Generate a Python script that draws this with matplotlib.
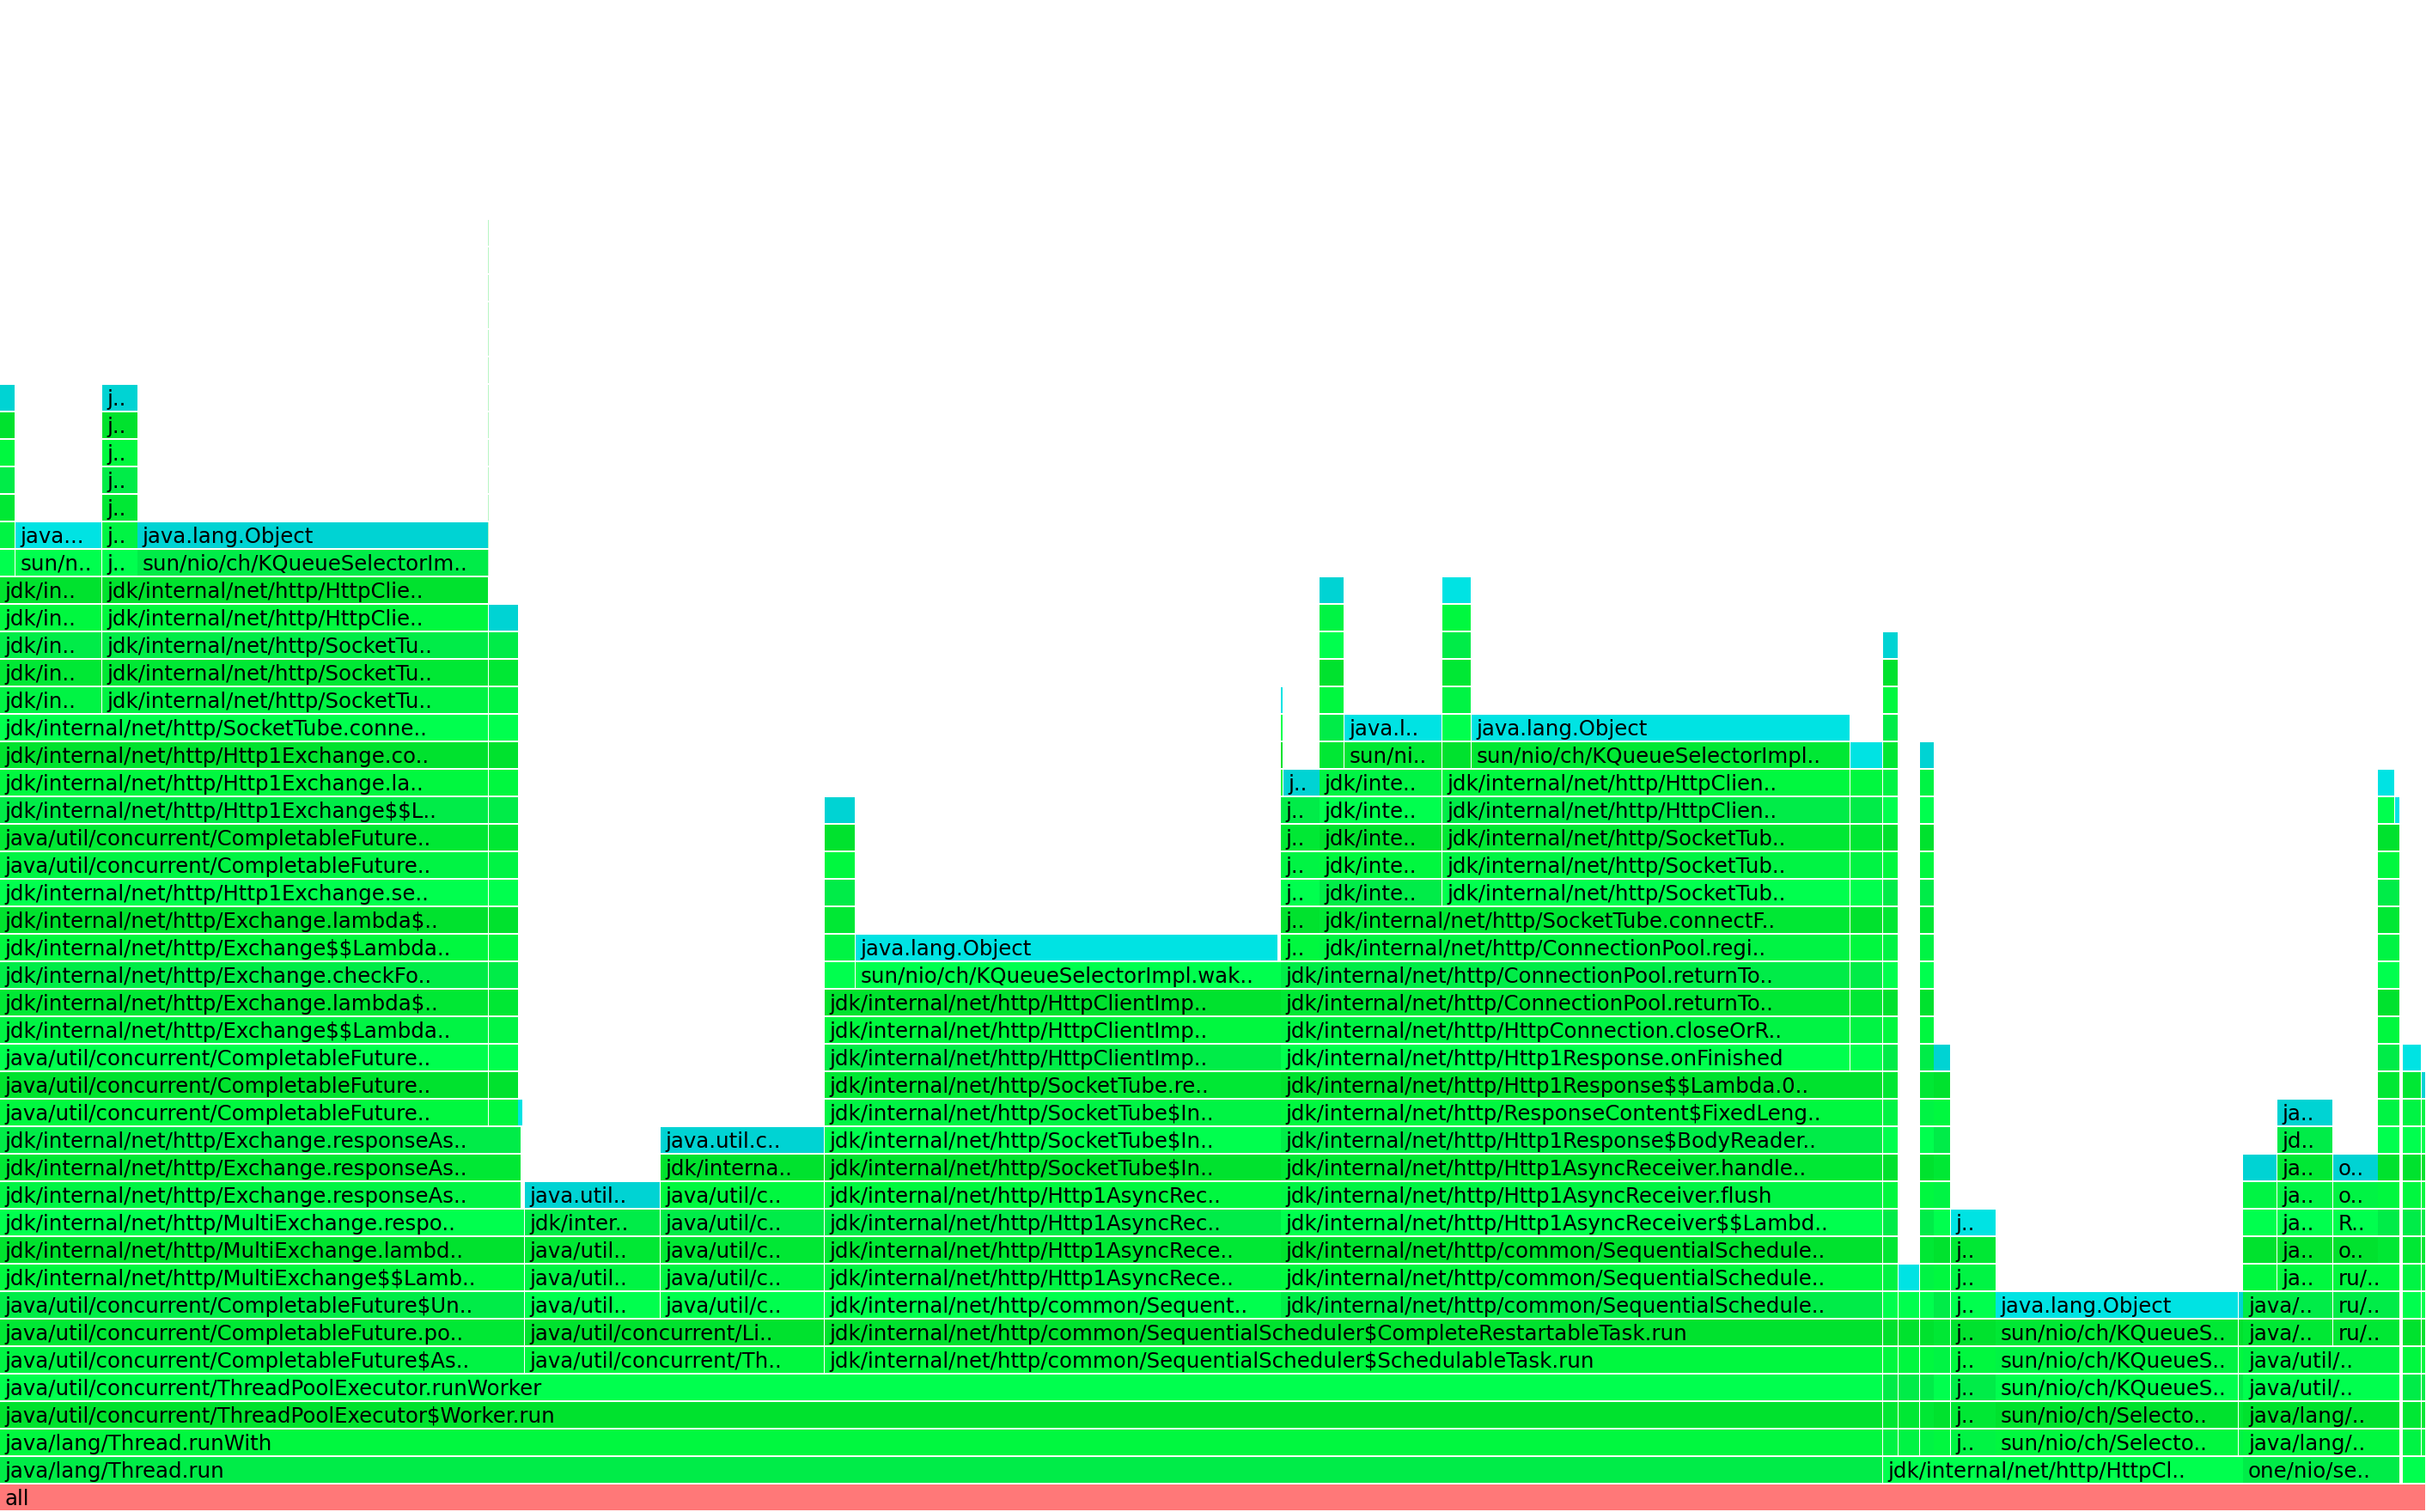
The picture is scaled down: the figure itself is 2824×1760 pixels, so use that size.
import matplotlib
matplotlib.use('Agg')
import matplotlib.pyplot as plt
from matplotlib.patches import Rectangle

##################################################################
## Flame graph data (x in samples, TOTAL samples across)
TOTAL = 1568
N_ROWS = 55

# frame: (depth, first sample, samples, name, type)  type J=java, A=alloc class, R=root
root_frames = [(0, 0, 1568, 'all', 'R')]

thread_frames = [
    (1, 0, 1217, 'java/lang/Thread.run', 'J'),
    (2, 0, 1217, 'java/lang/Thread.runWith', 'J'),
    (3, 0, 1217, 'java/util/concurrent/ThreadPoolExecutor$Worker.run', 'J'),
    (4, 0, 1217, 'java/util/concurrent/ThreadPoolExecutor.runWorker', 'J'),
    (5, 0, 339, 'java/util/concurrent/CompletableFuture$As..', 'J'),
    (5, 339, 194, 'java/util/concurrent/Th..', 'J'),
    (5, 533, 684, 'jdk/internal/net/http/common/SequentialScheduler$SchedulableTask.run', 'J'),
    (6, 0, 339, 'java/util/concurrent/CompletableFuture.po..', 'J'),
    (6, 339, 194, 'java/util/concurrent/Li..', 'J'),
    (6, 533, 684, 'jdk/internal/net/http/common/SequentialScheduler$CompleteRestartableTask.run', 'J'),
]

exchange_frames = [
    (7, 0, 339, 'java/util/concurrent/CompletableFuture$Un..', 'J'),
    (8, 0, 339, 'jdk/internal/net/http/MultiExchange$$Lamb..', 'J'),
    (9, 0, 339, 'jdk/internal/net/http/MultiExchange.lambd..', 'J'),
    (10, 0, 339, 'jdk/internal/net/http/MultiExchange.respo..', 'J'),
    (11, 0, 337, 'jdk/internal/net/http/Exchange.responseAs..', 'J'),
    (12, 0, 337, 'jdk/internal/net/http/Exchange.responseAs..', 'J'),
    (13, 0, 337, 'jdk/internal/net/http/Exchange.responseAs..', 'J'),
    (14, 0, 316, 'java/util/concurrent/CompletableFuture..', 'J'),
    (15, 0, 316, 'java/util/concurrent/CompletableFuture..', 'J'),
    (16, 0, 316, 'java/util/concurrent/CompletableFuture..', 'J'),
    (17, 0, 316, 'jdk/internal/net/http/Exchange$$Lambda..', 'J'),
    (18, 0, 316, 'jdk/internal/net/http/Exchange.lambda$..', 'J'),
    (19, 0, 316, 'jdk/internal/net/http/Exchange.checkFo..', 'J'),
    (20, 0, 316, 'jdk/internal/net/http/Exchange$$Lambda..', 'J'),
    (21, 0, 316, 'jdk/internal/net/http/Exchange.lambda$..', 'J'),
    (22, 0, 316, 'jdk/internal/net/http/Http1Exchange.se..', 'J'),
    (23, 0, 316, 'java/util/concurrent/CompletableFuture..', 'J'),
    (24, 0, 316, 'java/util/concurrent/CompletableFuture..', 'J'),
    (25, 0, 316, 'jdk/internal/net/http/Http1Exchange$$L..', 'J'),
    (26, 0, 316, 'jdk/internal/net/http/Http1Exchange.la..', 'J'),
    (27, 0, 316, 'jdk/internal/net/http/Http1Exchange.co..', 'J'),
    (28, 0, 316, 'jdk/internal/net/http/SocketTube.conne..', 'J'),
    (29, 0, 66, 'jdk/in..', 'J'),
    (29, 66, 250, 'jdk/internal/net/http/SocketTu..', 'J'),
    (30, 0, 66, 'jdk/in..', 'J'),
    (30, 66, 250, 'jdk/internal/net/http/SocketTu..', 'J'),
    (31, 0, 66, 'jdk/in..', 'J'),
    (31, 66, 250, 'jdk/internal/net/http/SocketTu..', 'J'),
    (32, 0, 66, 'jdk/in..', 'J'),
    (32, 66, 250, 'jdk/internal/net/http/HttpClie..', 'J'),
    (33, 0, 66, 'jdk/in..', 'J'),
    (33, 66, 250, 'jdk/internal/net/http/HttpClie..', 'J'),
    (34, 10, 56, 'sun/n..', 'J'),
    (34, 89, 227, 'sun/nio/ch/KQueueSelectorIm..', 'J'),
    (35, 10, 56, 'java...', 'A'),
    (35, 89, 227, 'java.lang.Object', 'A'),
]

executor_frames = [
    (7, 339, 88, 'java/util..', 'J'),
    (7, 427, 106, 'java/util/c..', 'J'),
    (8, 339, 88, 'java/util..', 'J'),
    (8, 427, 106, 'java/util/c..', 'J'),
    (9, 339, 88, 'java/util..', 'J'),
    (9, 427, 106, 'java/util/c..', 'J'),
    (10, 339, 88, 'jdk/inter..', 'J'),
    (10, 427, 106, 'java/util/c..', 'J'),
    (11, 339, 88, 'java.util..', 'A'),
    (11, 427, 106, 'java/util/c..', 'J'),
    (12, 427, 106, 'jdk/interna..', 'J'),
    (13, 427, 106, 'java.util.c..', 'A'),
]

receiver_frames = [
    (7, 533, 295, 'jdk/internal/net/http/common/Sequent..', 'J'),
    (8, 533, 295, 'jdk/internal/net/http/Http1AsyncRece..', 'J'),
    (9, 533, 295, 'jdk/internal/net/http/Http1AsyncRece..', 'J'),
    (10, 533, 295, 'jdk/internal/net/http/Http1AsyncRec..', 'J'),
    (11, 533, 295, 'jdk/internal/net/http/Http1AsyncRec..', 'J'),
    (12, 533, 295, 'jdk/internal/net/http/SocketTube$In..', 'J'),
    (13, 533, 295, 'jdk/internal/net/http/SocketTube$In..', 'J'),
    (14, 533, 295, 'jdk/internal/net/http/SocketTube$In..', 'J'),
    (15, 533, 295, 'jdk/internal/net/http/SocketTube.re..', 'J'),
    (16, 533, 295, 'jdk/internal/net/http/HttpClientImp..', 'J'),
    (17, 533, 295, 'jdk/internal/net/http/HttpClientImp..', 'J'),
    (18, 533, 295, 'jdk/internal/net/http/HttpClientImp..', 'J'),
    (19, 553, 275, 'sun/nio/ch/KQueueSelectorImpl.wak..', 'J'),
    (20, 553, 273, 'java.lang.Object', 'A'),
]

pool_frames = [
    (7, 828, 389, 'jdk/internal/net/http/common/SequentialSchedule..', 'J'),
    (8, 828, 389, 'jdk/internal/net/http/common/SequentialSchedule..', 'J'),
    (9, 828, 389, 'jdk/internal/net/http/common/SequentialSchedule..', 'J'),
    (10, 828, 389, 'jdk/internal/net/http/Http1AsyncReceiver$$Lambd..', 'J'),
    (11, 828, 389, 'jdk/internal/net/http/Http1AsyncReceiver.flush', 'J'),
    (12, 828, 389, 'jdk/internal/net/http/Http1AsyncReceiver.handle..', 'J'),
    (13, 828, 389, 'jdk/internal/net/http/Http1Response$BodyReader..', 'J'),
    (14, 828, 389, 'jdk/internal/net/http/ResponseContent$FixedLeng..', 'J'),
    (15, 828, 389, 'jdk/internal/net/http/Http1Response$$Lambda.0..', 'J'),
    (16, 828, 368, 'jdk/internal/net/http/Http1Response.onFinished', 'J'),
    (17, 828, 368, 'jdk/internal/net/http/HttpConnection.closeOrR..', 'J'),
    (18, 828, 368, 'jdk/internal/net/http/ConnectionPool.returnTo..', 'J'),
    (19, 828, 368, 'jdk/internal/net/http/ConnectionPool.returnTo..', 'J'),
    (20, 853, 343, 'jdk/internal/net/http/ConnectionPool.regi..', 'J'),
    (21, 853, 343, 'jdk/internal/net/http/SocketTube.connectF..', 'J'),
    (22, 932, 264, 'jdk/internal/net/http/SocketTub..', 'J'),
    (23, 932, 264, 'jdk/internal/net/http/SocketTub..', 'J'),
    (24, 932, 264, 'jdk/internal/net/http/SocketTub..', 'J'),
    (25, 932, 264, 'jdk/internal/net/http/HttpClien..', 'J'),
    (26, 829.5, 23.5, 'j..', 'A'),
    (26, 932, 264, 'jdk/internal/net/http/HttpClien..', 'J'),
    (27, 869, 63, 'sun/ni..', 'J'),
    (27, 951, 245, 'sun/nio/ch/KQueueSelectorImpl..', 'J'),
    (28, 869, 63, 'java.l..', 'A'),
    (28, 951, 245, 'java.lang.Object', 'A'),
]

selector_frames = [
    (1, 1217, 233, 'jdk/internal/net/http/HttpCl..', 'J'),
    (1, 1450, 101, 'one/nio/se..', 'J'),
    (1, 1553, 15, '', 'J'),
    (2, 1290, 157, 'sun/nio/ch/Selecto..', 'J'),
    (3, 1290, 157, 'sun/nio/ch/Selecto..', 'J'),
    (4, 1290, 157, 'sun/nio/ch/KQueueS..', 'J'),
    (5, 1290, 157, 'sun/nio/ch/KQueueS..', 'J'),
    (6, 1290, 157, 'sun/nio/ch/KQueueS..', 'J'),
    (7, 1290, 157, 'java.lang.Object', 'A'),
    (2, 1450, 101, 'java/lang/..', 'J'),
    (3, 1450, 101, 'java/lang/..', 'J'),
    (4, 1450, 101, 'java/util/..', 'J'),
    (5, 1450, 101, 'java/util/..', 'J'),
    (6, 1450, 58, 'java/..', 'J'),
    (6, 1508, 43, 'ru/..', 'J'),
    (7, 1450, 58, 'java/..', 'J'),
    (7, 1508, 43, 'ru/..', 'J'),
    (8, 1472, 36, 'ja..', 'J'),
    (8, 1508, 43, 'ru/..', 'J'),
    (9, 1472, 36, 'ja..', 'J'),
    (9, 1508, 29, 'o..', 'J'),
    (10, 1472, 36, 'ja..', 'J'),
    (10, 1508, 29, 'R..', 'J'),
    (11, 1472, 36, 'ja..', 'J'),
    (11, 1508, 29, 'o..', 'J'),
    (12, 1472, 36, 'ja..', 'J'),
    (12, 1508, 29, 'o..', 'A'),
    (13, 1472, 36, 'jd..', 'J'),
    (14, 1472, 36, 'ja..', 'A'),
]

# towers of identical frames: (first sample, samples, lowest depth, top depth, top type, name)
towers = [
    (0, 10, 34, 40, 'A', ''),
    (66, 23, 34, 40, 'A', 'j..'),
    (316, 19, 14, 32, 'A', ''),
    (335, 3, 14, 14, 'A', ''),
    (533, 20, 19, 25, 'A', ''),
    (828, 25, 20, 25, 'J', 'j..'),
    (828, 1.5, 26, 29, 'A', ''),
    (853, 79, 22, 26, 'J', 'jdk/inte..'),
    (853, 16, 27, 33, 'A', ''),
    (932, 19, 27, 33, 'A', ''),
    (1196, 21, 16, 27, 'A', ''),
    (1217, 10, 2, 31, 'A', ''),
    (1227, 14, 2, 8, 'A', ''),
    (1241, 9, 2, 27, 'A', ''),
    (1250, 11, 2, 16, 'A', ''),
    (1261, 29, 2, 10, 'A', 'j..'),
    (1447, 3, 2, 7, 'A', ''),
    (1450, 22, 8, 12, 'A', ''),
    (1537, 14, 9, 24, 'J', ''),
    (1537, 11, 25, 26, 'A', ''),
    (1548, 3, 25, 25, 'A', ''),
    (1553, 12, 2, 16, 'A', ''),
    (1565, 3, 2, 15, 'A', ''),
]

# one very deep but tiny stack (a sliver next to java.lang.Object)
sliver = (315.6, 0.3, 34, 46)

##################################################################
## Build the full frame list
frames = (root_frames + thread_frames + exchange_frames + executor_frames
          + receiver_frames + pool_frames + selector_frames)
for start, width, lo, top, top_type, name in towers:
    for d in range(lo, top + 1):
        frames.append((d, start, width, name, top_type if d == top else 'J'))

greens = ['#00e834', '#00f444', '#00ff4e', '#00e22e', '#00f83f', '#00ec48']
cyans = ['#00d3d3', '#00e3e3']

def frame_color(depth, start, ftype):
    if ftype == 'R':
        return '#ff7878'
    k = depth * 5 + int(start * 3)
    if ftype == 'A':
        return cyans[k % len(cyans)]
    return greens[k % len(greens)]

##################################################################
## Plot
fig = plt.figure(figsize=(28.24, 17.60), dpi=100)
ax = fig.add_axes([0, 0, 1, 1])
ax.set_xlim(0, TOTAL)
ax.set_ylim(0, N_ROWS)
ax.axis('off')

for depth, start, width, name, ftype in frames:
    w = max(width - 0.35, width * 0.8)
    rect = Rectangle((start, depth + 1 / 16.), w, 15 / 16.,
                     facecolor=frame_color(depth, start, ftype), linewidth=0)
    ax.add_patch(rect)
    if name:
        t = ax.text(start + 3.0, depth + 0.26, name, fontsize=17.6,
                    family='DejaVu Sans', color='black', ha='left', va='baseline',
                    parse_math=False)
        t.set_clip_path(rect)

s_start, s_width, s_lo, s_top = sliver
for d in range(s_lo, s_top + 1):
    ax.add_patch(Rectangle((s_start, d + 1 / 16.), s_width, 15 / 16.,
                           facecolor='#b8f5c4', linewidth=0))

fig.savefig('out.png', dpi=100)
plt.close(fig)
